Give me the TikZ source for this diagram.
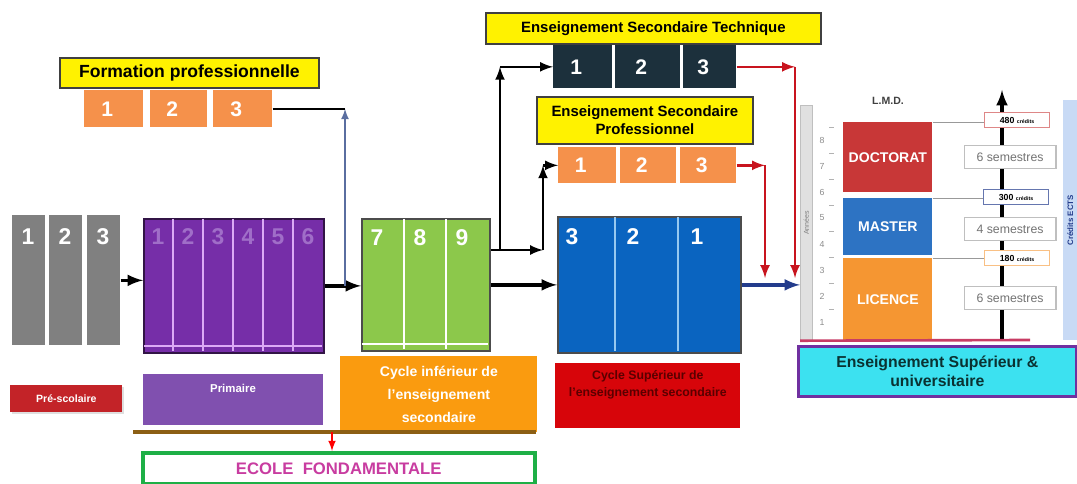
\documentclass[tikz,border=0pt]{standalone}
\usepackage{fontspec}
\setmainfont{Liberation Sans}
\usetikzlibrary{arrows, arrows.meta}
\usetikzlibrary{shapes, shadows}
\definecolor{fporange}{RGB}{245,145,75}
\definecolor{pregrey}{RGB}{128,128,128}
\definecolor{primpurple}{RGB}{118,46,168}
\definecolor{primdark}{RGB}{50,20,70}
\definecolor{primnum}{RGB}{160,110,200}
\definecolor{primsep}{RGB}{220,170,245}
\definecolor{primlilac}{RGB}{128,80,175}
\definecolor{cycgreen}{RGB}{140,200,75}
\definecolor{supblue}{RGB}{10,100,192}
\definecolor{supsep}{RGB}{150,200,240}
\definecolor{estdark}{RGB}{28,48,60}
\definecolor{docred}{RGB}{200,55,55}
\definecolor{masblue}{RGB}{45,115,195}
\definecolor{licorange}{RGB}{245,150,50}
\definecolor{ectsblue}{RGB}{200,218,245}
\definecolor{univcyan}{RGB}{60,225,240}
\definecolor{univpurple}{RGB}{112,48,160}
\definecolor{univtext}{RGB}{10,50,50}
\definecolor{prered}{RGB}{195,35,40}
\definecolor{inforange}{RGB}{250,155,15}
\definecolor{supred}{RGB}{215,5,10}
\definecolor{supredtext}{RGB}{90,0,0}
\definecolor{fondgreen}{RGB}{30,175,70}
\definecolor{fondmagenta}{RGB}{200,60,160}
\definecolor{fondline}{RGB}{140,95,20}
\definecolor{arrred}{RGB}{200,20,30}
\definecolor{arrblue}{RGB}{35,60,140}
\definecolor{fpline}{RGB}{90,110,160}
\definecolor{pinkline}{RGB}{200,60,100}
\tikzset{
  blk/.style={anchor=north west, inner sep=0pt},
  wh/.style 2 args={minimum width=#1*0.02cm, minimum height=#2*0.02cm},
  title/.style={blk, draw=black!75, line width=1pt, fill=yellow, align=center,
    font=\bfseries\fontsize{8.5}{10}\selectfont},
  smallcol/.style={blk, text width=0.5cm, align=left, text=white,
    font=\bfseries\fontsize{12}{12}\selectfont},
  num/.style={text=white, font=\bfseries\fontsize{13}{13}\selectfont},
  mainarrow/.style={->, line width=2pt},
  brancharrow/.style={->, line width=1.5pt},
  redarrow/.style={->, arrred, line width=1.5pt},
  credit/.style={fill=white, line width=0.8pt, minimum width=1.3cm, minimum height=0.3cm,
    inner sep=0pt, font=\bfseries\fontsize{5}{5}\selectfont},
  sem/.style={fill=white, draw=black!25, line width=0.6pt, minimum width=1.84cm,
    minimum height=0.46cm, font=\fontsize{7}{7}\selectfont, text=black!55},
  lmdtxt/.style={text=white, font=\bfseries\fontsize{8}{8}\selectfont}
}

\begin{document}
\begin{tikzpicture}[>=latex, x=0.02cm, y=-0.02cm]
\useasboundingbox (0,0) rectangle (1077,483);

% formation professionnelle
\node[title, wh={259}{30}, font=\bfseries\fontsize{10}{10}\selectfont] (fplab) at (59,57) {Formation professionnelle};
\foreach \i/\x/\w in {1/84/59, 2/150/57, 3/213/59}
  \node[smallcol, fill=fporange, wh={\w}{37}] (fp\i) at (\x,90) {\i};

% pre-scolaire
\foreach \i/\x in {1/12, 2/49, 3/87} {
  \node[blk, fill=pregrey, wh={33}{130}] (pre\i) at (\x,215) {};
  \node[num] (pren\i) at (\x+16,237) {\i};
}

% primaire
\node[blk, fill=primpurple, draw=primdark, line width=1pt, wh={180}{134}] (prim) at (143,218) {};
\foreach \x in {173,203,233,263,293}
  \draw[primsep, line width=1.2pt] (\x,219) -- (\x,351);
\draw[primsep, line width=1.5pt] (144,346) -- (322,346);
\foreach \i in {1,...,6}
  \node[num, text=primnum] (primn\i) at (128+30*\i,237) {\i};

% cycle inferieur
\node[blk, fill=cycgreen, draw=black!70, line width=1pt, wh={128}{132}] (cyc) at (361,218) {};
\foreach \x in {404,446}
  \draw[white, line width=1.2pt] (\x,219) -- (\x,349);
\draw[white, line width=1.5pt] (362,344) -- (488,344);
\foreach \i/\x in {7/377, 8/420, 9/462}
  \node[num] (cycn\i) at (\x,238) {\i};

% cycle superieur
\node[blk, fill=supblue, draw=black!70, line width=1pt, wh={183}{136}] (sup) at (557,216) {};
\foreach \x in {615,678}
  \draw[supsep, line width=1.2pt] (\x,217) -- (\x,351);
\foreach \i/\x in {3/572, 2/633, 1/697}
  \node[num] (supn\i) at (\x,237) {\i};

% secondaire technique / professionnel
\node[title, wh={335}{31}] (estlab) at (485,12) {Enseignement Secondaire Technique};
\foreach \i/\x/\w in {1/553/59, 2/615/65, 3/683/53}
  \node[smallcol, fill=estdark, wh={\w}{43}] (est\i) at (\x,45) {\i};
\node[title, wh={216}{47}] (esplab) at (536,96) {Enseignement Secondaire\\Professionnel};
\foreach \i/\x/\w in {1/558/58, 2/620/56, 3/680/56}
  \node[smallcol, fill=fporange, wh={\w}{36}] (esp\i) at (\x,147) {\i};

% fleches
\draw[mainarrow] (pre3.east) -- (pre3.east -| prim.west);
\draw[mainarrow] (prim.east) -- (prim.east -| cyc.west);
\draw[mainarrow] (cyc.east) -- (cyc.east -| sup.west);
\coordinate (fpx) at (345,300);
\draw[->, fpline, line width=1pt] (prim.east -| fpx) -- (fp3.east -| fpx);
\draw[line width=1pt] (fp3.east) -- (fp3.east -| fpx);
\coordinate (forka) at (500,250);
\coordinate (forkb) at (543,250);
\draw[brancharrow] (cyc.east |- forka) -- (forkb);
\draw[brancharrow] (forka) -- (forka |- est1.west);
\draw[brancharrow] (forka |- est1.west) -- (est1.west);
\draw[brancharrow] (forkb) -- (forkb |- esp1.west);
\draw[brancharrow] (forkb |- esp1.west) -- (esp1.west);
\coordinate (estin) at (795,278);
\coordinate (espin) at (765,278);
\draw[redarrow] (est3.east) -- (est3.east -| estin);
\draw[redarrow] (est3.east -| estin) -- (estin);
\draw[redarrow] (esp3.east) -- (esp3.east -| espin);
\draw[redarrow] (esp3.east -| espin) -- (espin);
\coordinate (lmdx) at (800,0);
\draw[->, arrblue, line width=2pt] (sup.east) -- (sup.east -| lmdx);

% L.M.D.
\node[blk, fill=black!12, draw=black!25, wh={12}{235}] (years) at (800,105) {};
\node[rotate=90, text=black!50, font=\fontsize{4}{4}\selectfont] (yearstxt) at (years.center) {Années};
\foreach \i in {1,...,8} {
  \node[text=black!45, font=\fontsize{5}{5}\selectfont] (sc\i) at (822,348-26*\i) {\i};
  \draw[black!30] (829,335-26*\i) -- (834,335-26*\i);
}
\node[font=\bfseries\fontsize{6}{6}\selectfont, text=black!75] (lmd) at (888,101) {L.M.D.};
\node[blk, fill=docred, wh={89}{70}, lmdtxt] (doc) at (843,122) {DOCTORAT};
\node[blk, fill=masblue, wh={89}{57}, lmdtxt] (mas) at (843,198) {MASTER};
\node[blk, fill=licorange, wh={89}{82}, lmdtxt] (lic) at (843,258) {LICENCE};
\coordinate (ectsbase) at (1002,340);
\coordinate (ectstop) at (1002,90);
\draw[->, line width=2pt] (ectsbase) -- (ectstop);
\node[credit, draw=docred!60] (cr480) at (1017,120) {480 {\fontsize{3}{3}\selectfont crédits}};
\node[credit, draw=arrblue!70] (cr300) at (1016,197) {300 {\fontsize{3}{3}\selectfont crédits}};
\node[credit, draw=licorange!60] (cr180) at (1017,258) {180 {\fontsize{3}{3}\selectfont crédits}};
\draw[black!40] (doc.north east) -- (doc.north east -| cr480.west);
\draw[black!40] (mas.north east) -- (mas.north east -| cr300.west);
\draw[black!40] (lic.north east) -- (lic.north east -| cr180.west);
\node[sem] (sem6a) at (1010,157) {6 semestres};
\node[sem] (sem4) at (1010,229) {4 semestres};
\node[sem] (sem6b) at (1010,298) {6 semestres};
\node[blk, fill=ectsblue, wh={14}{240}] (ects) at (1063,100) {};
\node[rotate=90, text=arrblue, font=\bfseries\fontsize{4.5}{4.5}\selectfont] (ectstxt) at (ects.center) {Crédits ECTS};
\draw[pinkline, line width=1.5pt] (years.south west) -- (1030,340);
\node[blk, fill=univcyan, draw=univpurple, line width=1.5pt, wh={278}{50}, align=center,
  text=univtext, font=\bfseries\fontsize{9}{11}\selectfont] (univ) at (797,345)
  {Enseignement Supérieur \&\\universitaire};

% cycles
\node[blk, fill=prered, wh={112}{27}, text=white,
  drop shadow={opacity=0.25, shadow xshift=1.2pt, shadow yshift=-1.2pt},
  font=\bfseries\fontsize{6}{6}\selectfont] (presc) at (10,385) {Pré-scolaire};
\node[blk, fill=primlilac, wh={180}{51}] (primlab) at (143,374) {};
\node[text=white, font=\bfseries\fontsize{6.5}{6.5}\selectfont] (primtxt) at (233,388) {Primaire};
\node[blk, fill=inforange, wh={197}{76}, align=center, text=white,
  font=\bfseries\fontsize{8}{13}\selectfont] (inflab) at (340,356)
  {Cycle inférieur de\\l'enseignement\\secondaire};
\node[blk, fill=supred, wh={185}{65}, align=center, text=supredtext, text depth=0.5cm,
  font=\bfseries\fontsize{7}{9.5}\selectfont] (suplab) at (555,363)
  {Cycle Supérieur de\\l'enseignement secondaire};
\draw[fondline, line width=2.5pt] (133,432) -- (536,432);
\coordinate (fondmid) at (332,432);
\node[blk, draw=fondgreen, line width=2pt, fill=white, wh={392}{31}, text=fondmagenta,
  font=\bfseries\fontsize{9.5}{9.5}\selectfont] (ecole) at (141,451) {ECOLE\ \ FONDAMENTALE};
\draw[->, red, line width=1pt] (fondmid) -- (fondmid |- ecole.north);
\end{tikzpicture}
\end{document}
